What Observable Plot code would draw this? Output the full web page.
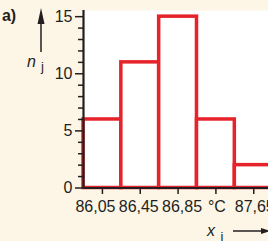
<!DOCTYPE html>
<html>
<head>
<meta charset="utf-8">
<script src="https://cdn.jsdelivr.net/npm/d3@7"></script>
<script src="https://cdn.jsdelivr.net/npm/@observablehq/plot@0.6"></script>
<style>
  html, body { margin: 0; padding: 0; background: #fdf6e7; }
</style>
</head>
<body>
<div id="chart"></div>
<script>
const edges = [85.85, 86.25, 86.65, 87.05, 87.45, 87.85];
const counts = [6, 11, 15, 6, 2];
const xTicks = [86.05, 86.45, 86.85, 87.25, 87.65];
const xTickLabels = ["86,05", "86,45", "86,85", "°C", "87,65"];
const yMajor = [0, 5, 10, 15];
const yMinor = [1, 2, 3, 4, 6, 7, 8, 9, 11, 12, 13, 14];

const red = "#e6232b";
const ink = "#231f20";
const cream = "#fdf6e7";
const font = "Liberation Sans, Arial, Helvetica, sans-serif";
const fs = 16;
const labelShift = [-7, -1.5, 4, 1, 1];

const bins = counts.map((n, i) => ({x1: edges[i], x2: edges[i + 1], n}));

const xLabelMarks = xTicks.map((t, i) => Plot.axisX({
  ticks: [t], tickSize: 0, tickPadding: 12.5, dx: labelShift[i],
  fill: ink, fontSize: fs, label: null, tickFormat: () => xTickLabels[i]
}));

const plot = Plot.plot({
  width: 268,
  height: 241,
  marginLeft: 83,
  marginRight: 0,
  marginTop: 10,
  marginBottom: 53.5,
  style: {background: cream, fontFamily: font, fontSize: fs + "px", color: ink},
  x: {domain: [edges[0], 87.806]},
  y: {domain: [0, 15.54]},
  marks: [
    Plot.frame({fill: "white", stroke: null}),
    Plot.rectY(bins, {x1: "x1", x2: "x2", y: "n", fill: "white", stroke: red, strokeWidth: 3.5}),
    Plot.axisY({ticks: yMinor, tickSize: 5, stroke: ink, strokeWidth: 1.5, label: null, text: null}),
    Plot.axisY({ticks: yMajor, tickSize: 8, tickPadding: 3, stroke: ink, strokeWidth: 1.5, fill: ink, fontSize: fs, label: null}),
    Plot.axisX({ticks: xTicks, tickSize: 6.5, stroke: ink, strokeWidth: 1.5, label: null, text: null}),
    ...xLabelMarks,
    Plot.ruleX([edges[0]], {stroke: ink, strokeWidth: 2.2}),
    Plot.ruleY([0], {stroke: ink, strokeWidth: 2.2})
  ]
});

document.getElementById("chart").appendChild(plot);

const svg = d3.select(plot);
svg.append("text").attr("x", 9).attr("y", 21)
  .style("font-family", font).style("font-weight", "bold").style("font-size", "16px")
  .attr("fill", ink).text("a)");

svg.append("line").attr("x1", 41).attr("x2", 41).attr("y1", 52).attr("y2", 20)
  .attr("stroke", ink).attr("stroke-width", 1.5);
svg.append("polygon").attr("points", "41,8 37.5,24 44.5,24").attr("fill", ink);

const nj = svg.append("text").style("font-family", font).attr("fill", ink);
nj.append("tspan").attr("x", 31.5).attr("y", 67).style("font-style", "italic").style("font-size", "16px").text("n");
nj.append("tspan").attr("x", 42.5).attr("y", 70.5).style("font-size", "13px").text("j");

const xi = svg.append("text").style("font-family", font).attr("fill", ink);
xi.append("tspan").attr("x", 211).attr("y", 236).style("font-style", "italic").style("font-size", "16px").text("x");
xi.append("tspan").attr("x", 222).attr("y", 240.5).style("font-size", "13px").text("i");

svg.append("line").attr("x1", 233).attr("x2", 262).attr("y1", 231).attr("y2", 231)
  .attr("stroke", ink).attr("stroke-width", 1.5);
svg.append("polygon").attr("points", "270,231 261,228 261,234").attr("fill", ink);
</script>
</body>
</html>
